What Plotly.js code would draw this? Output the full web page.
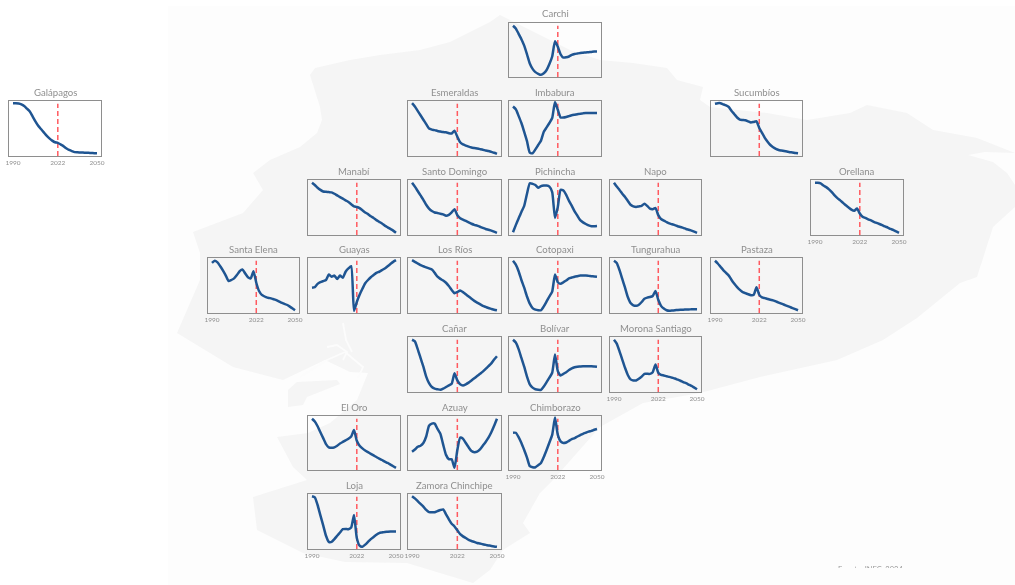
<!DOCTYPE html>
<html>
<head>
<meta charset="utf-8">
<script src="https://cdn.plot.ly/plotly-3.0.1.min.js"></script>
<style>
html,body{margin:0;padding:0;background:#fff;overflow:hidden}
#chart{width:1015px;height:585px;filter:blur(0.5px)}
#srcMask{position:absolute;left:820px;top:568px;width:110px;height:17px;background:#fdfdfd}
</style>
</head>
<body>
<div id="chart"></div>
<div id="srcMask"></div>
<script>
const years = [1990,1992,1994,1996,1998,2000,2002,2004,2006,2008,2010,2012,2014,2016,2018,2020,2022,2024,2026,2028,2030,2032,2034,2036,2038,2040,2042,2044,2046,2048,2050];
const tickYears = [1990,2022,2050];
const censusYear = 2022;

const galapagos = [96,96,95.5,94,91,86,81,72,63,55,49,43,37,32,28,25,24,21,18,14,11,9,7,6.6,6.4,6.2,6,5.8,5.5,5.2,5];
const santaElena = [91,95,92,85,77,68,58,60,63,69,76,79,72,65,63,76,55,40,33,30,28,27,25.5,24,21.5,19,17,15,12,8.5,5];
const carchi = [95,90,80,70,58,42,25,15,9,6,4,7,13,24,38,66,56,42,36,36.5,38,41,42.5,43.5,44.5,45,45.5,46,46.5,47,47];
const esmeraldas = [96,90,82,74,66,58,50,48,47,45.5,44.5,43.5,43,41.5,41,46,35,25,21,19,17,15.5,14.5,13.5,12.5,11.5,10,9,7.5,6,4];
const imbabura = [90,85,73,60,44,27,6,5,12,20,28,44,52,60,69,98,84,70,70,71,72.5,74,75,76,77,77.5,78,78,78,78,78];
const manabi = [95,91,86,82,79,78.5,78,77.5,75,72,69,66,63,60,56,52,51,49,45,41,38,34,31,27,24,21,17,14,11,8,4];
const santoDomingo = [95,88,80,72,64,55,48,43.5,41,40,38.5,37.5,35,36.5,41,47,36,30.5,28,25.5,23,20.5,18.5,17,15,13,11,9.5,8,6,4];
const pichincha = [5,18,30,42,53,75,94,93,91,86,89,90,90,88,78,31,51,82,81,73,62,53,43,35,27,23,20,17.5,16,16,16.5];
const sucumbios = [95,96,96,94,92,89,82,76,70,66,65.5,65,63,61,62,63,51,42,33,26,20,16,13,11,10,9,8,7,6.5,5.5,5];
const napo = [95,88,82,75,69,62,55,52,51,52,53,57,53,48,47,49,36,29,26,23.5,21,19.5,18,16,14.5,13,11,9.5,8,6,4];
const orellana = [95,95,94,90,87,83,78,72,67,63,58.5,54,50,46,44,48,39,33,31,28.5,26.5,24,22,20,18,15.5,13.5,11,9,6.5,4];
const tungurahua = [95,91,78,62,46,29,18,14,13,15,20,26,28,29,31,40,24,13,8,5,4,4.5,5,5.5,6,6,6.3,6.5,6.7,7,7];
const pastaza = [95,90,84,78,73,68,60,53,47,42,38,36,34,32.5,33,47,33,28.5,27,25.5,24,23,21,19,17,15,13,11,9,7,5];
const guayas = [46,47,53,56,58,60,70,66,68,62,68,64,75,81,85,4,20,33,44,54,60,65,69,73,75,78,81,85,89,93,96];
const losRios = [96,93,90,87,85,83,81,79,73,66,62,59,55,49,42,36,38,41,38,34,30,26,22,19,16,13,11,9,7.5,6,5];
const cotopaxi = [95,88,76,60,46,30,17,9,6,5,5,12,21,30,39,70,56,53,56,59,63,64.5,66,67,68,68,68,67.5,67,66.5,66];
const canar = [95,92,78,62,46,28,16,9,6,5,4,6,9,12,15,34,21,14,12,14,17,21,25,29,33,37,42,47,52,59,65];
const bolivar = [95,90,78,62,46,28,14,8,5,4,4,10,18,26,35,68,38,30,33,36,40,43,45,46,46.5,47,47,47,47,46.5,46];
const moronaSantiago = [95,88,74,59,44,31,23,21,21,24,28,33,33,33,36,50,35,31,30,28.5,27.5,26,24.5,22.5,20.5,18,16,13.5,11,8,5];
const elOro = [95,90,81,70,59,48,42,41,42,45,49,52,55,58,62,74,54,45,40,36,33,30,27,24,21,18.5,15.5,13,10,7,4];
const azuay = [34,38,43,45,50,62,82,86,86,76,67,47,28,20,20,4,37,60,58,50,42,35,33,34,38,45,52,60,70,82,95];
const chimborazo = [69,69,61,50,37,23,7,5,5,9,13,24,37,51,65,97,65,53,50,51,54,57,59,62,64.5,67,69,71,72.5,74.5,76];
const loja = [96,94,80,61,43,24,13,13,18,24,30,36,36.5,36,39,62,20,6,4,8,13,18,22,26,29,30,31,31.5,32,32,32];
const zamoraChinchipe = [96,92,87,82,77,71,67,67,67,69,71,72,63,54,46,41,34,27,23,20,16.5,14.5,13,11,10,8.5,7.5,6.5,5.5,4.7,4];

// panel frames on the page: name, values, left, right, top, bottom, has tick labels
const panels = [
 ['Carchi',carchi,509,601,23,77,false],
 ['Galápagos',galapagos,9,101,101,156,true],
 ['Esmeraldas',esmeraldas,408,501,101,156,false],
 ['Imbabura',imbabura,509,601,101,156,false],
 ['Sucumbíos',sucumbios,711,802,101,156,false],
 ['Manabí',manabi,308,400,180,235,false],
 ['Santo Domingo',santoDomingo,408,501,180,235,false],
 ['Pichincha',pichincha,509,601,180,235,false],
 ['Napo',napo,610,701,180,235,false],
 ['Orellana',orellana,811,903,180,235,true],
 ['Santa Elena',santaElena,208,299,258,313,true],
 ['Guayas',guayas,308,400,258,313,false],
 ['Los Ríos',losRios,408,501,258,313,false],
 ['Cotopaxi',cotopaxi,509,601,258,313,false],
 ['Tungurahua',tungurahua,610,701,258,313,false],
 ['Pastaza',pastaza,711,802,258,313,true],
 ['Cañar',canar,408,501,337,392,false],
 ['Bolívar',bolivar,509,601,337,392,false],
 ['Morona Santiago',moronaSantiago,610,701,337,392,true],
 ['El Oro',elOro,308,400,416,470,false],
 ['Azuay',azuay,408,501,416,470,false],
 ['Chimborazo',chimborazo,509,601,416,470,true],
 ['Loja',loja,308,400,494,549,true],
 ['Zamora Chinchipe',zamoraChinchipe,408,501,494,549,true]
];

// background silhouette of Ecuador, page pixels
const sheetX = [168,1015,1015,168,168];
const sheetY = [6,6,585,585,6];
const landX = [500,490,470,450,420,380,350,315,310,315,320,322,317,300,270,253,263,243,193,200,200,177,205,233,283,300,325,350,368,357,330,308,277,293,307,253,257,303,345,407,430,473,490,503,530,523,540,553,600,643,700,760,837,883,917,960,977,993,1015,1015,1007,993,968,985,1015,977,933,907,867,850,807,767,710,700,703,677,667,633,600,570,530,500];
const landY = [15,22,32,42,50,55,60,68,75,90,107,120,133,147,160,173,190,213,232,253,280,333,350,367,380,372,360,372,373,400,423,433,437,467,480,497,530,553,562,563,570,583,570,550,533,523,493,480,427,403,393,377,360,340,318,283,277,227,207,185,173,162,155,152,153,138,130,113,105,113,120,113,107,100,87,80,68,63,60,50,30,15];
const islandX = [288,297,337,340,307,303,288,288];
const islandY = [390,382,380,384,397,405,407,390];
const channelsX = [300,327,345,null,327,337,347,343,null,345,352,363,358,null,343,346,352,null];
const channelsY = [377,360,352,null,347,345,352,360,null,352,358,367,378,null,323,340,352,null];

const blue = '#1f5592', red = '#ff5a60', frame = '#8e8e8e', grey = '#8f8f8f';
const fontName = 'Lato, "Open Sans", sans-serif';

const traces = [
 {x:sheetX,y:sheetY,xaxis:'x',yaxis:'y',mode:'lines',fill:'toself',fillcolor:'#fdfdfd',line:{width:0},hoverinfo:'skip',showlegend:false},
 {x:landX,y:landY,xaxis:'x',yaxis:'y',mode:'lines',fill:'toself',fillcolor:'#f5f5f5',line:{width:0},hoverinfo:'skip',showlegend:false},
 {x:islandX,y:islandY,xaxis:'x',yaxis:'y',mode:'lines',fill:'toself',fillcolor:'#f5f5f5',line:{width:0},hoverinfo:'skip',showlegend:false},
 {x:channelsX,y:channelsY,xaxis:'x',yaxis:'y',mode:'lines',line:{width:1.8,color:'#fcfcfc'},connectgaps:false,hoverinfo:'skip',showlegend:false}
];

const layout = {
 width:1015,height:585,margin:{l:0,r:0,t:0,b:0},
 paper_bgcolor:'#ffffff',plot_bgcolor:'rgba(0,0,0,0)',showlegend:false,
 font:{family:fontName,color:grey},
 xaxis:{domain:[0,1],range:[0,1015],visible:false,fixedrange:true},
 yaxis:{domain:[0,1],range:[585,0],visible:false,fixedrange:true},
 annotations:[
  {xref:'paper',yref:'paper',x:870/1015,y:1-563/585,xanchor:'center',yanchor:'top',showarrow:false,
   text:'Fuente: INEC, 2024',font:{family:fontName,size:7.5,color:'#999999'}}
 ]
};

panels.forEach((p,i)=>{
 const [name,vals,L,R,T,B,ticks] = p;
 const n = i+2, xa = 'xaxis'+n, ya = 'yaxis'+n;
 const pad = 4/1.4;
 layout[xa] = {domain:[L/1015,R/1015],anchor:'y'+n,range:[1990-pad,2050+pad],tickmode:'array',
   tickvals:tickYears,ticktext:tickYears.map(String),showticklabels:ticks,ticks:'',showgrid:false,zeroline:false,
   showline:true,mirror:true,linecolor:frame,linewidth:1,tickfont:{family:fontName,size:6.5,color:'#8f8f8f'},fixedrange:true};
 layout[ya] = {domain:[1-B/585,1-T/585],anchor:'x'+n,range:[0,100],showticklabels:false,ticks:'',showgrid:false,
   zeroline:false,showline:true,mirror:true,linecolor:frame,linewidth:1,fixedrange:true};
 traces.push({x:[censusYear,censusYear],y:[0,95],xaxis:'x'+n,yaxis:'y'+n,mode:'lines',
   line:{color:red,width:1.5,dash:'5px,3px'},hoverinfo:'skip',showlegend:false});
 traces.push({x:years,y:vals,xaxis:'x'+n,yaxis:'y'+n,mode:'lines',name:name,
   line:{color:blue,width:2.5,shape:'spline',smoothing:0.5},showlegend:false});
 layout.annotations.push({xref:'paper',yref:'paper',x:(L+R)/2/1015,y:1-(T-1.5)/585,xanchor:'center',yanchor:'bottom',
   showarrow:false,text:name,font:{family:fontName,size:9.6,color:grey}});
});

Plotly.newPlot('chart',traces,layout,{staticPlot:true,displayModeBar:false});
</script>
</body>
</html>
